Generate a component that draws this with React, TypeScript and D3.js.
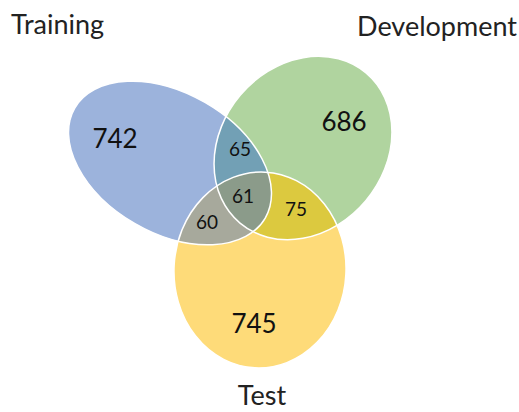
import { useEffect, useRef } from 'react'
import * as d3 from 'd3'

// set names and counts
const setNames = ['Training', 'Development', 'Test']
const onlyCounts = [742, 686, 745]
const pairLabels = ['Training∩Development', 'Training∩Test', 'Development∩Test']
const pairCounts = [65, 60, 75]
const tripleCount = 61

const setColors = ['#9CB3DC', '#B0D49F', '#FEDB79']
const pairColors = ['#72A0B5', '#A7A99C', '#DCC93F']
const tripleColor = '#8B9B8A'

interface Shape {
  cx: number
  cy: number
  rx: number
  ry: number
  rot: number
}

export default function App() {
  const svgRef = useRef<SVGSVGElement>(null)

  useEffect(() => {
    if (!svgRef.current) return
    const svg = d3.select(svgRef.current)
    svg.selectAll('*').remove()

    const width = 519
    const height = 412
    svg.attr('width', width).attr('height', height)

    // ellipse layout for the three sets
    const shapes: Shape[] = [
      { cx: 170, cy: 163, rx: 110, ry: 70, rot: 30 },
      { cx: 303, cy: 148, rx: 98, ry: 82, rot: -50 },
      { cx: 260, cy: 270, rx: 86, ry: 98, rot: 3 },
    ]

    const defs = svg.append('defs')
    shapes.forEach((s, i) => {
      defs
        .append('clipPath')
        .attr('id', `clip-${i}`)
        .append('ellipse')
        .attr('cx', s.cx)
        .attr('cy', s.cy)
        .attr('rx', s.rx)
        .attr('ry', s.ry)
        .attr('transform', `rotate(${s.rot},${s.cx},${s.cy})`)
    })

    const drawEllipse = (parent: d3.Selection<any, unknown, null, undefined>, s: Shape, fill: string) =>
      parent
        .append('ellipse')
        .attr('cx', s.cx)
        .attr('cy', s.cy)
        .attr('rx', s.rx)
        .attr('ry', s.ry)
        .attr('transform', `rotate(${s.rot},${s.cx},${s.cy})`)
        .attr('fill', fill)

    const g = svg.append('g')

    // single sets
    shapes.forEach((s, i) => drawEllipse(g, s, setColors[i]))

    // pairwise overlaps
    const pairs: [number, number][] = [
      [0, 1],
      [0, 2],
      [1, 2],
    ]
    pairs.forEach(([a, b], i) => {
      const pg = g.append('g').attr('clip-path', `url(#clip-${b})`).attr('data-name', pairLabels[i])
      drawEllipse(pg, shapes[a], pairColors[i])
    })

    // triple overlap
    const tg = g.append('g').attr('clip-path', `url(#clip-2)`).append('g').attr('clip-path', `url(#clip-1)`)
    drawEllipse(tg, shapes[0], tripleColor)

    // white outlines
    shapes.forEach((s) => drawEllipse(g, s, 'none').attr('stroke', '#fff').attr('stroke-width', 1.5))

    const font = 'Lato, "Open Sans", sans-serif'

    // set titles
    const titlePos = [
      { x: 11, y: 34, anchor: 'start' },
      { x: 517, y: 36, anchor: 'end' },
      { x: 262, y: 405, anchor: 'middle' },
    ]
    setNames.forEach((name, i) => {
      svg
        .append('text')
        .attr('x', titlePos[i].x)
        .attr('y', titlePos[i].y)
        .attr('text-anchor', titlePos[i].anchor)
        .attr('font-family', font)
        .attr('font-size', 27)
        .attr('fill', '#222')
        .text(name)
    })

    // region counts
    const onlyPos = [
      [115, 148],
      [344, 131],
      [254, 333],
    ]
    onlyCounts.forEach((c, i) => {
      svg
        .append('text')
        .attr('x', onlyPos[i][0])
        .attr('y', onlyPos[i][1])
        .attr('text-anchor', 'middle')
        .attr('font-family', font)
        .attr('font-size', 26)
        .attr('fill', '#111')
        .text(c)
    })

    const pairPos = [
      [240, 156],
      [207, 229],
      [296, 216],
    ]
    pairCounts.forEach((c, i) => {
      svg
        .append('text')
        .attr('x', pairPos[i][0])
        .attr('y', pairPos[i][1])
        .attr('text-anchor', 'middle')
        .attr('font-family', font)
        .attr('font-size', 19)
        .attr('fill', '#111')
        .text(c)
    })

    svg
      .append('text')
      .attr('x', 243)
      .attr('y', 203)
      .attr('text-anchor', 'middle')
      .attr('font-family', font)
      .attr('font-size', 19)
      .attr('fill', '#111')
      .text(tripleCount)
  }, [])

  return (
    <svg
      ref={svgRef}
      style={{ position: 'absolute', left: 0, top: 0, display: 'block', background: '#fff' }}
    />
  )
}
